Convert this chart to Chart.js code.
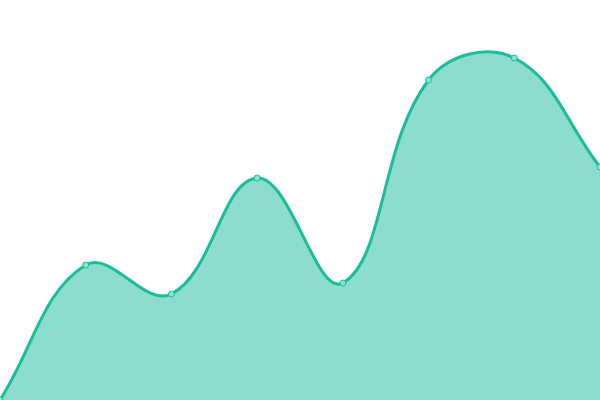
<!DOCTYPE html>
<html>
<head>
<meta charset="utf-8">
<script src="https://cdn.jsdelivr.net/npm/chart.js@4"></script>
<style>
  html, body { margin: 0; padding: 0; background: #fff; }
  #wrap { width: 600px; height: 400px; }
</style>
</head>
<body>
<div id="wrap"><canvas id="areaChart"></canvas></div>
<script>
const labels = ["1", "2", "3", "4", "5", "6", "7", "8"];
const values = [0, 135, 106, 222, 117, 320, 342, 233];
const yMin = 0;
const yMax = 400;

let canvasElement = document.getElementById("areaChart");

let areaChartCfg = {
    type: 'line',
    data: {
      labels: labels,
      datasets: [{
        data: values,
        borderColor: '#1abc9c',
        backgroundColor: 'rgba(26, 188, 156, 0.5)',
        borderWidth: 3,
        fill: true,
        tension: 0.4,
        pointRadius: 3,
        pointBorderWidth: 1,
        pointBackgroundColor: '#8ee2d2',
        pointBorderColor: '#1abc9c'
      }]
    },
    options: {
      responsive: true,
      maintainAspectRatio: false,
      animation: false,
      layout: { padding: 0, autoPadding: false },
      plugins: {
        legend: { display: false },
        tooltip: { enabled: false }
      },
      scales: {
        x: { display: false, offset: false },
        y: { display: false, min: yMin, max: yMax }
      }
    }
}

let chart = new Chart(canvasElement, areaChartCfg);
</script>
</body>
</html>
